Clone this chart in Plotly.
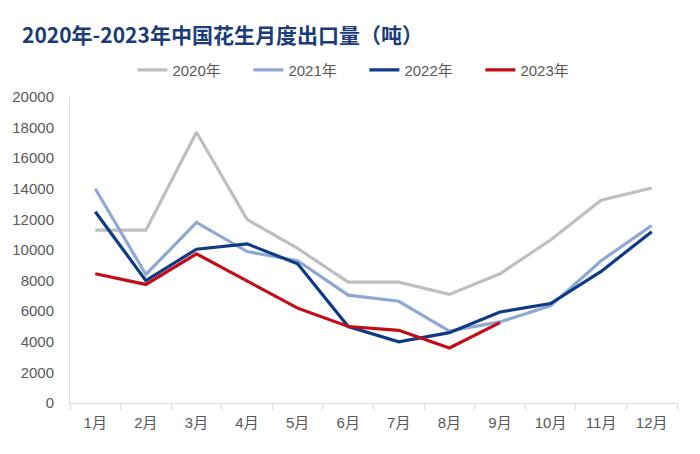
import plotly.graph_objects as go

months = ["1月", "2月", "3月", "4月", "5月", "6月", "7月", "8月", "9月", "10月", "11月", "12月"]

y2020 = [11300, 11300, 17700, 12000, 10100, 7900, 7900, 7100, 8450, 10650, 13250, 14050]
y2021 = [14000, 8400, 11800, 9900, 9300, 7050, 6650, 4700, 5300, 6350, 9300, 11600]
y2022 = [12500, 8000, 10050, 10400, 9100, 5000, 4000, 4600, 5950, 6500, 8600, 11200]
y2023 = [8450, 7750, 9750, 8000, 6200, 5000, 4750, 3600, 5250]

series = [
    ("2020年", y2020, "#BFBFBF"),
    ("2021年", y2021, "#8EA9D1"),
    ("2022年", y2022, "#0F3A86"),
    ("2023年", y2023, "#C00D17"),
]

fig = go.Figure()
for name, vals, color in series:
    fig.add_trace(go.Scatter(x=months[:len(vals)], y=vals, name=name, mode="lines",
                             line=dict(color=color, width=3.2)))

# page body has an 8px margin, so margins are shifted to line up with the reference
fig.update_layout(
    width=700, height=454,
    margin=dict(l=62, r=31, t=89, b=59),
    plot_bgcolor="white", paper_bgcolor="white",
    font=dict(family="Liberation Sans, Noto Sans CJK SC", color="#595959", size=15),
    title=dict(text="<b>2020年-2023年中国花生月度出口量（吨）</b>", x=0.02, xanchor="left",
               y=0.94, yanchor="middle", automargin=False,
               font=dict(family="Noto Sans CJK SC", size=21, color="#1B3C78")),
    legend=dict(orientation="h", x=0.485, xanchor="center", y=1.088, yanchor="middle",
                font=dict(size=15, color="#595959"), entrywidth=71, entrywidthmode="pixels"),
    showlegend=True,
)
fig.update_xaxes(type="category", showline=True, linecolor="#D9D9D9", linewidth=1,
                 ticks="outside", tickson="boundaries", ticklen=6, tickcolor="#D9D9D9",
                 showgrid=False, range=[-0.5, 11.5], automargin=False, ticklabelstandoff=6)
fig.update_yaxes(range=[0, 20000], dtick=2000, tickformat="d", showline=True,
                 linecolor="#D9D9D9", linewidth=1, showgrid=False, zeroline=False,
                 ticks="", ticklabelstandoff=12, automargin=False)

fig.write_html("out.html")
